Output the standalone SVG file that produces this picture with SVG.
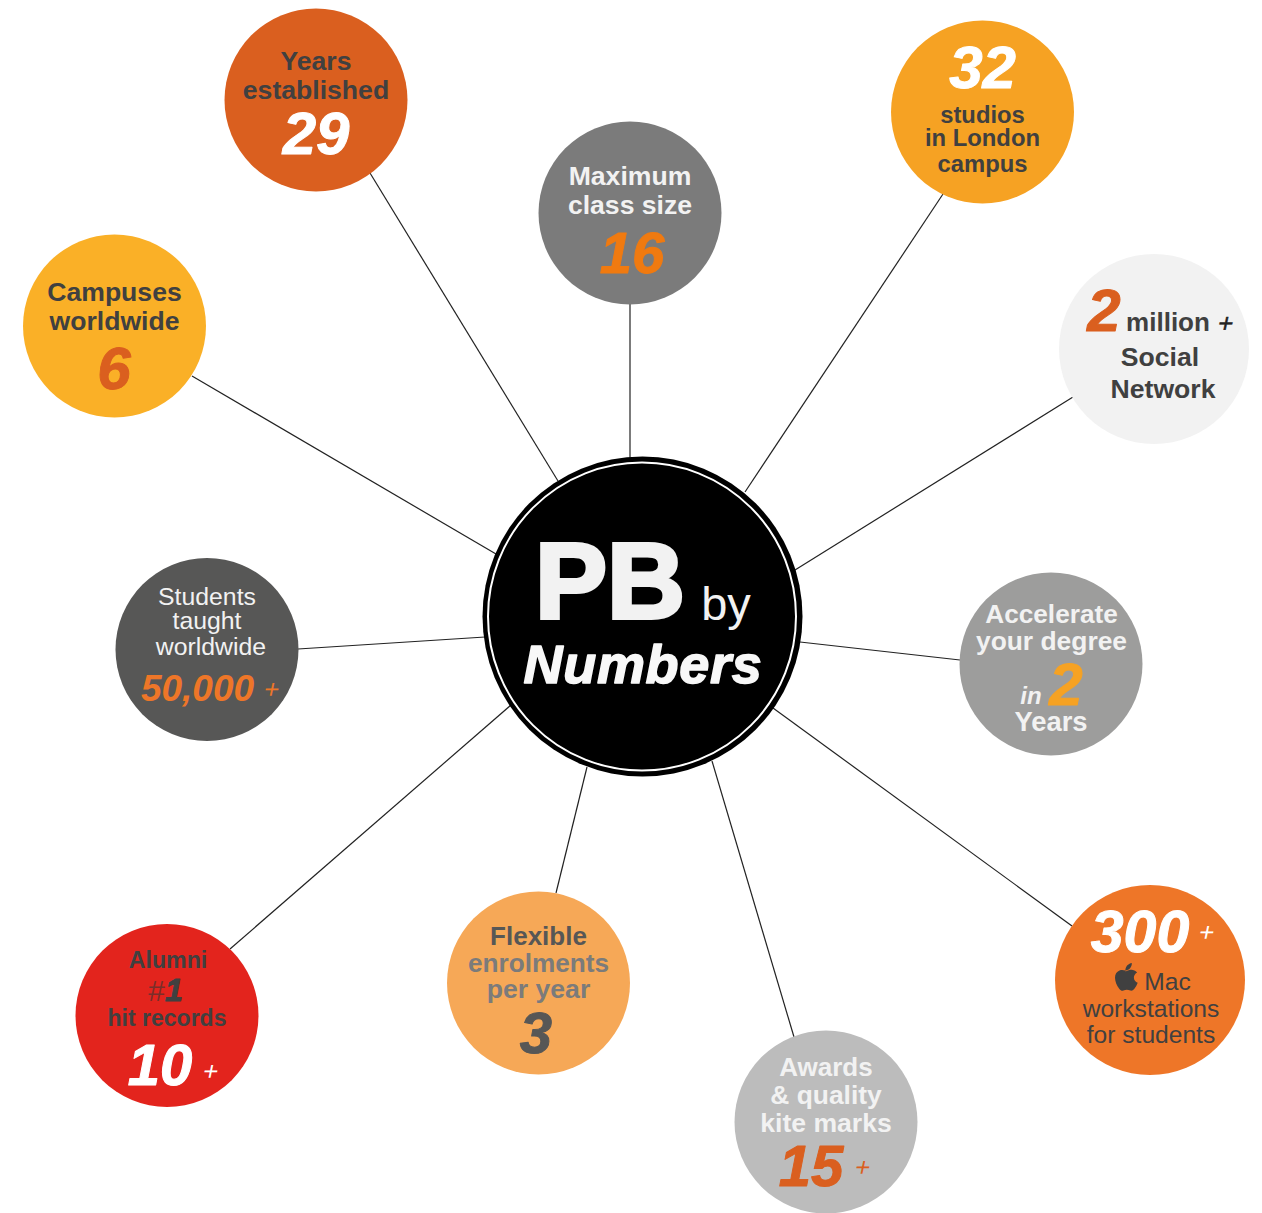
<svg xmlns="http://www.w3.org/2000/svg" width="1262" height="1213" viewBox="0 0 1262 1213">
<style>
text{font-family:"Liberation Sans",Arial,sans-serif;text-anchor:middle;font-weight:400}
.b{font-weight:700}
.n{font-weight:700;font-style:italic;stroke-width:1;stroke-linejoin:round}
.l{stroke:#222;stroke-width:1.2;fill:none}
.p{font-size:26px}
</style>
<rect width="1262" height="1213" fill="#fff"/>
<g id="connectors">
<line class="l" x1="370" y1="173" x2="558" y2="481"/>
<line class="l" x1="630" y1="300" x2="630" y2="458"/>
<line class="l" x1="943" y1="194" x2="745" y2="492"/>
<line class="l" x1="1073" y1="397" x2="795" y2="570"/>
<line class="l" x1="960" y1="660" x2="800" y2="642"/>
<line class="l" x1="1072" y1="926" x2="773" y2="708"/>
<line class="l" x1="794" y1="1037" x2="712" y2="761"/>
<line class="l" x1="556" y1="893" x2="587" y2="767"/>
<line class="l" x1="230" y1="949" x2="511" y2="705"/>
<line class="l" x1="298" y1="649" x2="485" y2="637"/>
<line class="l" x1="192" y1="376" x2="496" y2="554"/>
</g>
<g id="center">
<circle cx="642.5" cy="616.5" r="160" fill="#000"/>
<circle cx="642" cy="616.5" r="154" fill="none" stroke="#fff" stroke-width="2"/>
<text x="610" y="618" class="b" font-size="108" fill="#f2f2f2" stroke="#f2f2f2" stroke-width="4">PB</text>
<text x="726" y="620" font-size="47" fill="#f2f2f2">by</text>
<text x="643" y="683" class="n" font-size="54" letter-spacing="0.7" fill="#f8f8f8" stroke="#f8f8f8" style="stroke-width:1.5">Numbers</text>
</g>
<g id="years">
<circle cx="316" cy="100" r="91.5" fill="#da5f1f"/>
<text x="316" y="70" class="b" font-size="26.6" fill="#404040">Years</text>
<text x="316" y="99" class="b" font-size="26.6" fill="#404040">established</text>
<text x="316" y="154" class="n" font-size="60" fill="#fff" stroke="#fff">29</text>
</g>
<g id="class-size">
<circle cx="630" cy="213" r="91.5" fill="#7b7b7b"/>
<text x="630" y="185" class="b" font-size="26.6" fill="#f2f2f2">Maximum</text>
<text x="630" y="214" class="b" font-size="26.6" fill="#f2f2f2">class size</text>
<text x="632" y="273" class="n" font-size="58" fill="#f07a10" stroke="#f07a10">16</text>
</g>
<g id="studios">
<circle cx="982.5" cy="112" r="91.5" fill="#f6a223"/>
<text x="982.5" y="88" class="n" font-size="60" fill="#fff" stroke="#fff">32</text>
<text x="982.5" y="123" class="b" font-size="23.8" fill="#404040">studios</text>
<text x="982.5" y="146" class="b" font-size="23.8" fill="#404040">in London</text>
<text x="982.5" y="172" class="b" font-size="23.8" fill="#404040">campus</text>
</g>
<g id="social">
<circle cx="1154" cy="349" r="95" fill="#f2f2f2"/>
<text x="1104" y="331" class="n" font-size="60" fill="#da5f1f" stroke="#da5f1f">2</text>
<text x="1168" y="331" class="b" font-size="26" fill="#404040">million</text>
<text transform="translate(1224 332) skewX(-12)" class="p" fill="#222" stroke="#222" stroke-width=".5">+</text>
<text x="1160" y="366" class="b" font-size="26.6" fill="#404040">Social</text>
<text x="1163" y="398" class="b" font-size="26.6" fill="#404040">Network</text>
</g>
<g id="accelerate">
<circle cx="1051" cy="664" r="91.5" fill="#9d9d9c"/>
<text x="1051.5" y="623" class="b" font-size="26.2" fill="#f2f2f2">Accelerate</text>
<text x="1051.5" y="650" class="b" font-size="26.4" fill="#f2f2f2">your degree</text>
<text x="1031" y="704" class="n" font-size="24" fill="#f2f2f2" style="stroke-width:0">in</text>
<text x="1066" y="705" class="n" font-size="60" fill="#f6a223" stroke="#f6a223">2</text>
<text x="1051" y="731" class="b" font-size="27.4" fill="#f2f2f2">Years</text>
</g>
<g id="mac">
<circle cx="1150" cy="980" r="95" fill="#ee7628"/>
<text x="1140" y="952" class="n" font-size="59" fill="#fff" stroke="#fff">300</text>
<text transform="translate(1205 941) skewX(-12)" class="p" fill="#fff">+</text>
<path id="apple-logo" fill="#404040" d="M1125.5 971.5c2.5-1.2 4.8-1.800 7-1.600 1.800.2 3.400 1 4.600 2.500-2.200 1.400-3.300 3.200-3.200 5.400.1 2.400 1.500 4.100 3.800 5-.8 2.200-1.900 4.200-3.300 6-1.200 1.500-2.600 2.200-4 1.800-2.600-1-4.600-1-7 0-1.500.5-2.800-.1-4-1.600-2.800-3.500-4.300-7.500-4.400-11.200-.1-3.600 1.800-6.500 5-7.600 2-.6 3.800-.2 5.500.4zM1125.4 970.6c-.2-3.600 2.600-7 6.400-7.500.3 4-2.600 7.400-6.400 7.500z"/>
<text x="1167.5" y="990" font-size="24.6" fill="#404040">Mac</text>
<text x="1151" y="1017" font-size="24.6" fill="#404040">workstations</text>
<text x="1151" y="1043" font-size="24.6" fill="#404040">for students</text>
</g>
<g id="awards">
<circle cx="826" cy="1122" r="91.5" fill="#bcbcbc"/>
<text x="826" y="1076" class="b" font-size="26" fill="#f2f2f2">Awards</text>
<text x="826" y="1104" class="b" font-size="26.4" fill="#f2f2f2">&amp; quality</text>
<text x="826" y="1132" class="b" font-size="26.6" fill="#f2f2f2">kite marks</text>
<text x="811" y="1186" class="n" font-size="58" fill="#da5f1f" stroke="#da5f1f">15</text>
<text transform="translate(861 1176) skewX(-12)" class="p" fill="#da5f1f">+</text>
</g>
<g id="flexible">
<circle cx="538.5" cy="983" r="91.5" fill="#f6a857"/>
<text x="538.5" y="945" class="b" font-size="26" fill="#575756">Flexible</text>
<text x="538.5" y="972" class="b" font-size="26.2" fill="#7b7b7b">enrolments</text>
<text x="538.5" y="998" class="b" font-size="26.6" fill="#7b7b7b">per year</text>
<text x="536" y="1053" class="n" font-size="58" fill="#575756" stroke="#575756">3</text>
</g>
<g id="alumni">
<circle cx="167" cy="1015.5" r="91.5" fill="#e3241d"/>
<text x="168" y="968" class="b" font-size="23.2" fill="#404040">Alumni</text>
<text x="156" y="1001" font-size="30" font-style="italic" fill="#7a2e2a">#</text>
<text x="174" y="1001" class="n" font-size="32" fill="#404040" stroke="#404040">1</text>
<text x="167" y="1026" class="b" font-size="23" fill="#404040">hit records</text>
<text x="160" y="1085" class="n" font-size="58" fill="#fff" stroke="#fff">10</text>
<text transform="translate(209 1080) skewX(-12)" class="p" fill="#fff">+</text>
</g>
<g id="students">
<circle cx="207" cy="649.5" r="91.5" fill="#575756"/>
<text x="207" y="605" font-size="24.8" fill="#f2f2f2">Students</text>
<text x="207" y="629" font-size="24.8" fill="#f2f2f2">taught</text>
<text x="211" y="655" font-size="24.8" fill="#f2f2f2">worldwide</text>
<text x="197.500" y="701" class="n" font-size="37" fill="#ee7628" style="stroke-width:0">50,000</text>
<text transform="translate(270 698) skewX(-12)" class="p" fill="#ee7628">+</text>
</g>
<g id="campuses">
<circle cx="114.500" cy="326" r="91.5" fill="#fab027"/>
<text x="114.500" y="301" class="b" font-size="26.6" fill="#404040">Campuses</text>
<text x="114.500" y="330" class="b" font-size="26.6" fill="#404040">worldwide</text>
<text x="114" y="389" class="n" font-size="60" fill="#da5f1f" stroke="#da5f1f">6</text>
</g>
</svg>
